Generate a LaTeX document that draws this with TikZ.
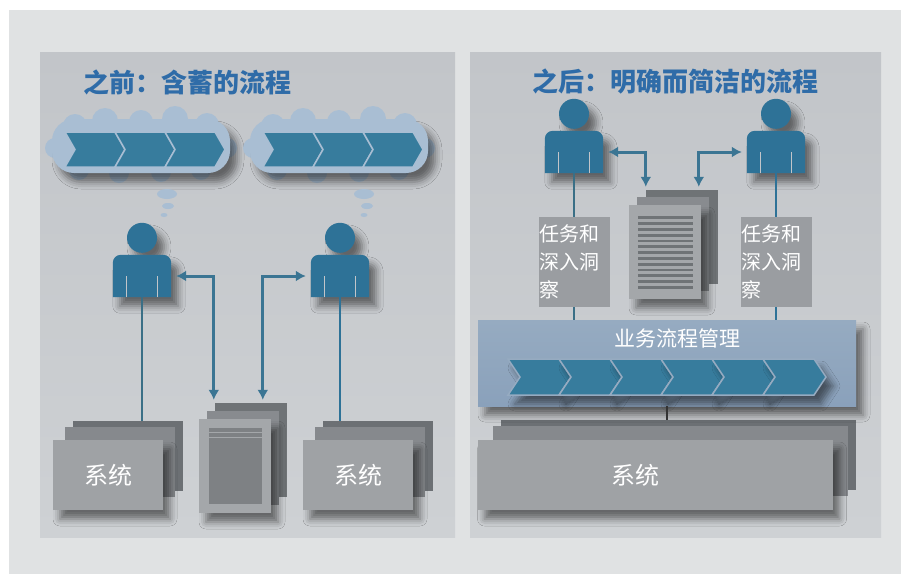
\documentclass[tikz,border=0pt]{standalone}
\usepackage{fontspec}
\setmainfont{Noto Sans CJK SC}
\usetikzlibrary{arrows.meta,shadows.blur}

\definecolor{outergrey}{HTML}{E0E2E3}
\definecolor{paneltop}{HTML}{C2C5C9}
\definecolor{panelbot}{HTML}{CED1D4}
\definecolor{titleblue}{HTML}{2F6CA8}
\definecolor{figblue}{HTML}{2E7297}
\definecolor{flowblue}{HTML}{3B7593}
\definecolor{wireteal}{HTML}{3A6F86}
\definecolor{chevblue}{HTML}{377C9D}
\definecolor{cloudblue}{HTML}{A9BED3}
\definecolor{bartop}{HTML}{96ABC1}
\definecolor{barbot}{HTML}{8AA1BB}
\definecolor{sysdark}{HTML}{6C7074}
\definecolor{sysmidgrey}{HTML}{86898D}
\definecolor{syslight}{HTML}{9FA2A5}
\definecolor{pagedark}{HTML}{6F7376}
\definecolor{pagemid}{HTML}{888B8F}
\definecolor{pagelight}{HTML}{A4A7AA}
\definecolor{pageink}{HTML}{7E8184}
\definecolor{taggrey}{HTML}{9A9DA1}

\begin{document}
\begin{tikzpicture}[
        x=1pt, y=-1pt,
        >={Latex[length=10pt,width=11pt]},
        soft/.style = {blur shadow={shadow xshift=7pt, shadow yshift=-9pt, shadow blur radius=7pt, shadow opacity=50}},
        title/.style = {text=titleblue, font=\fontsize{26}{30}\selectfont\bfseries},
        person/.style = {
            minimum width=58pt, minimum height=42pt, inner sep=0pt,
            append after command=
            {%
                \pgfextra{
                    \fill[figblue, soft] (\tikzlastnode.south west) [rounded corners=8pt] -- (\tikzlastnode.north west) -- (\tikzlastnode.north east) [sharp corners] -- (\tikzlastnode.south east) -- cycle
                        ([yshift=17pt]\tikzlastnode.north) circle (15pt);
                    \draw[paneltop, line width=1.2pt] ([xshift=14pt]\tikzlastnode.south west) -- ++(0pt,21pt)
                        ([xshift=-14pt]\tikzlastnode.south east) -- ++(0pt,21pt);
                }
            }
        },
        cloudy/.style = {
            rectangle, rounded corners=22pt, minimum width=178pt, minimum height=54pt, inner sep=0pt, fill=cloudblue, soft,
            append after command=
            {%
                \pgfextra{
                    \foreach \bx/\by/\br in {-66/-20/12, -36/-25/13, 0/-24/12, 34/-27/13, 66/-21/12,
                                             -86/2/10, 86/2/10,
                                             -62/24/10, -22/27/10, 20/26/10, 60/24/10}
                        \fill[cloudblue] ([shift={(\bx pt,-\by pt)}]\tikzlastnode.center) circle (\br pt);
                }
            }
        },
        chevron/.style = {fill=chevblue, draw=cloudblue, line width=1.5pt, line join=miter},
        sysback/.style = {rectangle, fill=sysdark, minimum width=110pt, minimum height=70pt, inner sep=0pt},
        sysmid/.style = {sysback, fill=sysmidgrey},
        sysfront/.style = {sysback, fill=syslight, soft, systext},
        systext/.style = {text=white, font=\fontsize{24}{28}\selectfont},
        docback/.style = {rectangle, fill=pagedark, minimum width=72pt, minimum height=94pt, inner sep=0pt},
        docmid/.style = {docback, fill=pagemid},
        docfront/.style = {docback, fill=pagelight, soft},
        tag/.style = {rectangle, fill=taggrey, text=white, minimum width=71pt, minimum height=90pt, text width=69pt, inner sep=1pt, align=left, font=\fontsize{20}{28}\selectfont},
        bar/.style = {rectangle, top color=bartop, bottom color=barbot, minimum width=378pt, minimum height=86pt, inner sep=0pt, soft},
        flow/.style = {draw=flowblue, line width=3pt},
        wire/.style = {draw=figblue, line width=2pt},
        thinwire/.style = {draw=wireteal, line width=1.6pt},
        stub/.style = {draw=black!80, line width=2pt}
    ]
        \useasboundingbox (0,0) rectangle (901,574);
        \fill[white] (0,0) rectangle (901,574);
        \fill[outergrey] (9,10) rectangle (901,574);
        \shade[top color=paneltop, bottom color=panelbot] (40,52) rectangle (455,537);
        \shade[top color=paneltop, bottom color=panelbot] (470,52) rectangle (881,537);

        \node[title] (H1) at (187,82) {之前：含蓄的流程};
        \node[title] (H2) at (675,82) {之后：明确而简洁的流程};

        \node[cloudy] (C1) at (141,146) {};
        \node[cloudy] (C2) at (339,146) {};
        \foreach \x in {65,263}
            \foreach \i in {0,1,2}
                \filldraw[chevron] ({\x+50*\i},132) -- ++(50,0) -- ++(10,17.5) -- ++(-10,17.5) -- ++(-50,0) -- ++(10,-17.5) -- cycle;
        \fill[cloudblue] (167,194) ellipse (10pt and 5pt) (168,206) ellipse (6pt and 3pt) (164,215) ellipse (3.5pt and 2pt);
        \fill[cloudblue] (364,194) ellipse (10pt and 5pt) (367,206) ellipse (6pt and 3pt) (364,215) ellipse (3.5pt and 2pt);

        \node[person] (P1) at (142,276) {};
        \node[person] (P2) at (340,276) {};
        \node[person] (P3) at (574,152) {};
        \node[person] (P4) at (776,152) {};

        \node[sysback] (S1b) at (128,456) {};
        \node[sysmid]  (S1m) at (120,462) {};
        \node[sysfront] (S1) at (108,475) {系统};

        \node[sysback] (S2b) at (378,456) {};
        \node[sysmid]  (S2m) at (370,462) {};
        \node[sysfront] (S2) at (358,475) {系统};

        \node[sysback, minimum width=355pt] (S3b) at (678,455) {};
        \node[sysmid, minimum width=355pt]  (S3m) at (670,461) {};
        \node[sysfront, minimum width=355pt, label={[systext, xshift=-20pt]center:系统}] (S3) at (655,475) {};

        \node[docback] (D1b) at (251,450) {};
        \node[docmid]  (D1m) at (243,458) {};
        \node[docfront] (D1) at (235,466) {};
        \fill[pageink] ([shift={(10pt,-9pt)}]D1.north west) rectangle ([shift={(-9pt,9pt)}]D1.south east);
        \draw[pagelight, line width=1pt] ([shift={(10pt,-14pt)}]D1.north west) -- ++(54pt,0pt)
            ([shift={(10pt,-19pt)}]D1.north west) -- ++(54pt,0pt);

        \node[docback] (D2b) at (682,237) {};
        \node[docmid]  (D2m) at (673,244) {};
        \node[docfront] (D2) at (665,252) {};
        \foreach \k in {0,...,12}
            \draw[pagedark, line width=2.8pt] ([shift={(9pt,{-13pt-5.8pt*\k})}]D2.north west) -- ++(55pt,0pt);

        \node[tag] (T1) at (574,262) {任务和\\深入洞\\察};
        \node[tag] (T2) at (776,262) {任务和\\深入洞\\察};

        \node[bar] (B) at (667,363) {};
        \node[systext, font=\fontsize{21}{24}\selectfont] (BT) at (677,338) {业务流程管理};
        \foreach \i in {0,...,5}
            \filldraw[chevron, draw=bartop, soft] ({508+51*\i},359) -- ++(51,0) -- ++(12,18) -- ++(-12,18) -- ++(-51,0) -- ++(12,-18) -- cycle;

        \draw[thinwire] (P1.south) -- (P1.south |- S1b.north);
        \draw[wire] (P2.south) -- (P2.south |- S2b.north);
        \draw[flow, <->] ([xshift=5pt]P1.east) -| ([xshift=-1pt, yshift=3pt]D1b.north west);
        \draw[flow, <->] ([xshift=48pt, yshift=3pt]D1b.north west) |- ([xshift=-5pt]P2.west);

        \draw[thinwire] (P3.south) -- (T1.north);
        \draw[thinwire] (T1.south) -- (T1.south |- B.north);
        \draw[wire] (P4.south) -- (T2.north);
        \draw[wire] (T2.south) -- (T2.south |- B.north);
        \draw[flow, <->] ([xshift=5pt]P3.east) -| ([yshift=3pt]D2b.north west);
        \draw[flow, <->] ([xshift=53pt, yshift=3pt]D2b.north west) |- ([xshift=-5pt]P4.west);
        \draw[stub] (B.south) -- (B.south |- S3b.north);
    \end{tikzpicture}
\end{document}
